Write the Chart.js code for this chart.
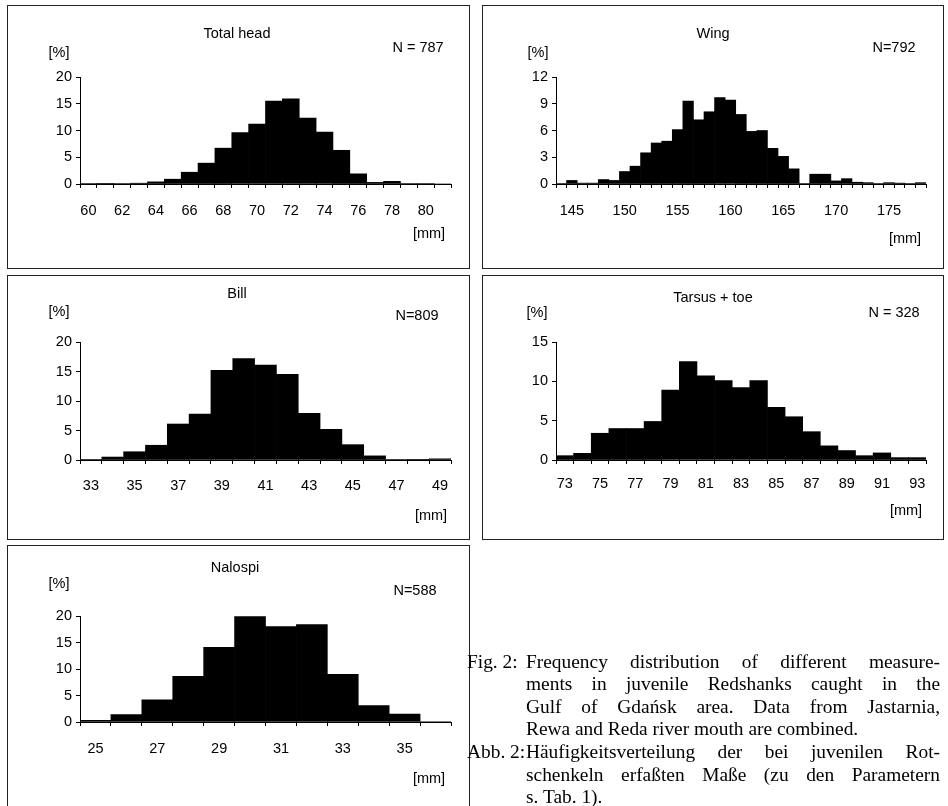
<!DOCTYPE html>
<html><head><meta charset="utf-8">
<script src="https://cdn.jsdelivr.net/npm/chart.js@4.4.1/dist/chart.umd.min.js"></script>
<style>
html,body{margin:0;padding:0;background:#fff;width:948px;height:806px;overflow:hidden;position:relative;font-family:"Liberation Sans",Arial,sans-serif;}
.box{position:absolute;border:1px solid #222;box-sizing:border-box;}
canvas{position:absolute;}
.t{position:absolute;transform:translate(-50%,-50%);font-size:14.5px;white-space:nowrap;color:#000;line-height:1;}
.cl{position:absolute;font-family:"Liberation Serif","Times New Roman",serif;font-size:19.4px;line-height:23px;color:#000;white-space:nowrap;}
.cj{position:absolute;font-family:"Liberation Serif","Times New Roman",serif;font-size:19.4px;line-height:23px;color:#000;text-align:justify;text-align-last:justify;white-space:normal;}
</style>
</head><body>

<div class="box" style="left:7px;top:5px;width:463px;height:264px"></div>
<div class="box" style="left:482px;top:5px;width:462px;height:264px"></div>
<div class="box" style="left:7px;top:275px;width:463px;height:265px"></div>
<div class="box" style="left:482px;top:275px;width:462px;height:265px"></div>
<div class="box" style="left:7px;top:545px;width:463px;height:300px"></div>

<canvas id="c1" width="460" height="240" style="left:8px;top:6px"></canvas>
<canvas id="c2" width="459" height="240" style="left:483px;top:6px"></canvas>
<canvas id="c3" width="460" height="250" style="left:8px;top:276px"></canvas>
<canvas id="c4" width="459" height="250" style="left:483px;top:276px"></canvas>
<canvas id="c5" width="460" height="250" style="left:8px;top:546px"></canvas>

<div class="t" style="left:237px;top:33px">Total head</div>
<div class="t" style="left:59px;top:52px">[%]</div>
<div class="t" style="left:418px;top:47px">N = 787</div>
<div class="t" style="left:429px;top:233px">[mm]</div>

<div class="t" style="left:713px;top:33px">Wing</div>
<div class="t" style="left:538px;top:52px">[%]</div>
<div class="t" style="left:894px;top:47px">N=792</div>
<div class="t" style="left:905px;top:238px">[mm]</div>

<div class="t" style="left:237px;top:293px">Bill</div>
<div class="t" style="left:59px;top:311px">[%]</div>
<div class="t" style="left:417px;top:315px">N=809</div>
<div class="t" style="left:431px;top:515px">[mm]</div>

<div class="t" style="left:713px;top:297px">Tarsus + toe</div>
<div class="t" style="left:537px;top:312px">[%]</div>
<div class="t" style="left:894px;top:312px">N = 328</div>
<div class="t" style="left:906px;top:510px">[mm]</div>

<div class="t" style="left:235px;top:567px">Nalospi</div>
<div class="t" style="left:59px;top:583px">[%]</div>
<div class="t" style="left:415px;top:590px">N=588</div>
<div class="t" style="left:429px;top:778px">[mm]</div>

<div class="cl" style="left:467px;top:650px">Fig. 2:</div>
<div class="cj" style="left:526px;top:650px;width:414px">Frequency distribution of different measure-</div>
<div class="cj" style="left:526px;top:672px;width:414px">ments in juvenile Redshanks caught in the</div>
<div class="cj" style="left:526px;top:695px;width:414px">Gulf of Gdańsk area. Data from Jastarnia,</div>
<div class="cl" style="left:526px;top:717px">Rewa and Reda river mouth are combined.</div>
<div class="cl" style="left:467px;top:740px">Abb. 2:</div>
<div class="cj" style="left:526px;top:740px;width:414px">Häufigkeitsverteilung der bei juvenilen Rot-</div>
<div class="cj" style="left:526px;top:763px;width:414px">schenkeln erfaßten Maße (zu den Parametern</div>
<div class="cl" style="left:526px;top:785px">s. Tab. 1).</div>

<script>
// ---- data ----
const headCats = [60,61,62,63,64,65,66,67,68,69,70,71,72,73,74,75,76,77,78,79,80,81];
const headValues = [0.1,0.05,0.1,0.15,0.4,0.9,2.2,3.9,6.7,9.6,11.2,15.5,15.9,12.3,9.7,6.3,1.9,0.3,0.5,0.1,0.1,0];

const wingCats = [144,145,146,147,148,149,150,151,152,153,154,155,156,157,158,159,160,161,162,163,164,165,166,167,168,169,170,171,172,173,174,175,176,177,178];
const wingValues = [0.05,0.4,0.1,0.1,0.5,0.4,1.4,2.0,3.5,4.6,4.8,6.1,9.3,7.2,8.1,9.7,9.4,7.8,5.9,6.0,4.0,3.1,1.7,0.05,1.1,1.1,0.35,0.6,0.2,0.15,0.05,0.15,0.1,0.05,0.15];

const billCats = [33,34,35,36,37,38,39,40,41,42,43,44,45,46,47,48,49];
const billValues = [0.1,0.5,1.4,2.5,6.1,7.8,15.2,17.2,16.1,14.5,7.9,5.2,2.6,0.7,0.1,0.05,0.2];

const tarsusCats = [73,74,75,76,77,78,79,80,81,82,83,84,85,86,87,88,89,90,91,92,93];
const tarsusValues = [0.55,0.85,3.4,4.0,4.0,4.9,8.9,12.5,10.7,10.1,9.2,10.1,6.7,5.5,3.6,1.8,1.2,0.55,0.9,0.3,0.3];

const nalospiCats = [25,26,27,28,29,30,31,32,33,34,35,36];
const nalospiValues = [0.3,1.4,4.2,8.6,14.1,19.9,18.0,18.4,9.0,3.1,1.5,0.1];

const headYTicks = [0,5,10,15,20];
const wingYTicks = [0,3,6,9,12];
const billYTicks = [0,5,10,15,20];
const tarsusYTicks = [0,5,10,15];
const nalospiYTicks = [0,5,10,15,20];

// ---- drawing ----
function makeChart(id, cats, values, yTicks, labelEvery, labelOffset, geo) {
  const yMax = yTicks[yTicks.length - 1];
  const yStep = yTicks[1] - yTicks[0];
  new Chart(document.getElementById(id), {
    type: 'bar',
    data: {
      labels: cats.map(String),
      datasets: [{
        data: values,
        backgroundColor: '#000',
        borderWidth: 0,
        barPercentage: 1,
        categoryPercentage: 1
      }]
    },
    options: {
      responsive: false,
      animation: false,
      events: [],
      layout: { padding: { top: geo.top, right: geo.right, left: 0, bottom: 0 } },
      plugins: { legend: { display: false }, tooltip: { enabled: false } },
      scales: {
        x: {
          type: 'category',
          offset: true,
          border: { display: true, color: '#000', width: 1 },
          grid: { display: true, offset: true, drawOnChartArea: false, drawTicks: true, tickLength: 4, color: '#000', lineWidth: 1 },
          ticks: {
            autoSkip: false, maxRotation: 0, minRotation: 0,
            padding: geo.xpad,
            color: '#000',
            font: { family: 'Liberation Sans, Arial, sans-serif', size: 14.5 },
            callback: function(v, i) { return ((cats[i] - labelOffset) % labelEvery === 0) ? String(cats[i]) : ''; }
          },
          afterFit: function(s) { s.height = geo.xh; }
        },
        y: {
          min: 0, max: yMax,
          border: { display: true, color: '#000', width: 1 },
          grid: { display: true, drawOnChartArea: false, drawTicks: true, tickLength: 4, color: '#000', lineWidth: 1 },
          ticks: {
            stepSize: yStep, padding: 4, color: '#000',
            font: { family: 'Liberation Sans, Arial, sans-serif', size: 14.5 }
          },
          afterFit: function(s) { s.width = geo.yw; }
        }
      }
    }
  });
}

makeChart('c1', headCats, headValues, headYTicks, 2, 0, { top: 71, right: 17, yw: 72, xh: 62, xpad: 14 });
makeChart('c2', wingCats, wingValues, wingYTicks, 5, 0, { top: 71, right: 16, yw: 73, xh: 62, xpad: 14 });
makeChart('c3', billCats, billValues, billYTicks, 2, 1, { top: 66, right: 17, yw: 72, xh: 66, xpad: 13 });
makeChart('c4', tarsusCats, tarsusValues, tarsusYTicks, 2, 1, { top: 66, right: 16, yw: 73, xh: 66, xpad: 11 });
makeChart('c5', nalospiCats, nalospiValues, nalospiYTicks, 2, 1, { top: 70, right: 17, yw: 72, xh: 74, xpad: 14 });
</script>
</body></html>
